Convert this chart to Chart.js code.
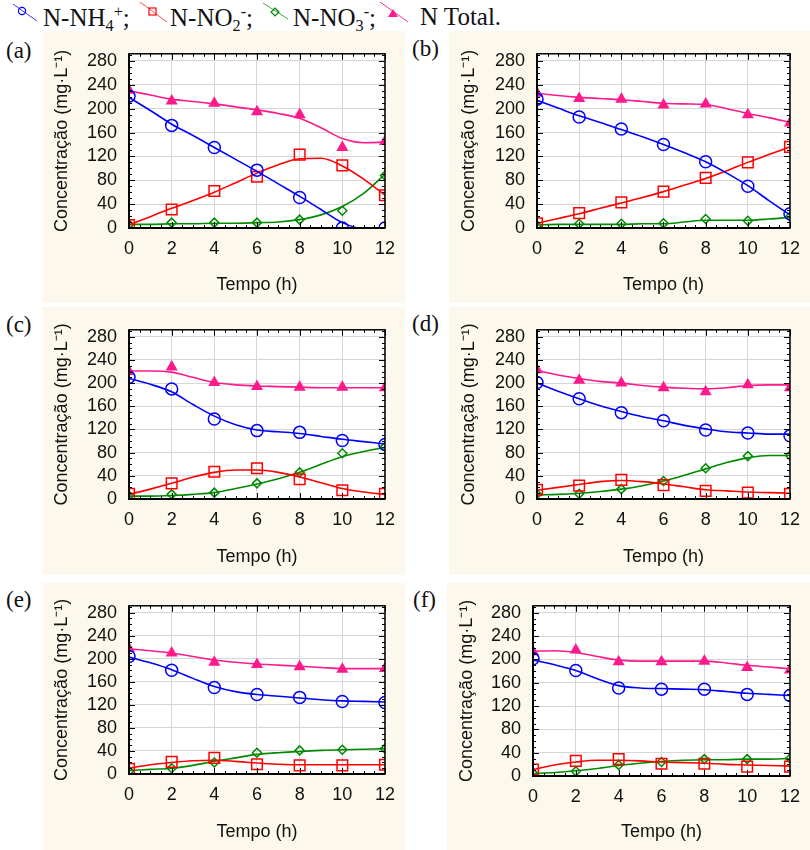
<!DOCTYPE html>
<html>
<head>
<meta charset="utf-8">
<script src="https://cdn.jsdelivr.net/npm/chart.js@4.4.0/dist/chart.umd.min.js"></script>
<style>
  body { margin: 0; width: 810px; height: 850px; background: #fff; position: relative; overflow: hidden; font-family: 'Liberation Serif', 'Times New Roman', serif; }
  .panel { position: absolute; background: #fdf8ec; }
  .panel canvas { display: block; }
  .tag { position: absolute; font-size: 23px; line-height: 1; color: #111; }
  .leg { position: absolute; top: 4px; font-size: 25px; line-height: 1; color: #111; white-space: nowrap; }
  .leg .sb { font-size: 0.65em; vertical-align: -0.3em; }
  .leg .sp { font-size: 0.65em; vertical-align: 0.55em; }
</style>
</head>
<body>

<svg style="position:absolute;left:0;top:0" width="420" height="30">
  <line x1="13" y1="4" x2="37" y2="21" stroke="#3a3aff" stroke-width="1"/>
  <circle cx="22" cy="11" r="3.6" fill="none" stroke="#0000ff" stroke-width="1.2"/>
  <line x1="140" y1="2" x2="167" y2="22" stroke="#ff4a4a" stroke-width="1"/>
  <rect x="149" y="8" width="7" height="7" fill="none" stroke="#ff0000" stroke-width="1.2"/>
  <line x1="263" y1="3" x2="288" y2="19" stroke="#4aa04a" stroke-width="1"/>
  <polygon points="275,8 279,12 275,16 271,12" fill="none" stroke="#008a00" stroke-width="1.2"/>
  <line x1="380" y1="2" x2="408" y2="22" stroke="#ff2f96" stroke-width="1"/>
  <polygon points="393,9 398,17 388,17" fill="#ff1a8c"/>
</svg>
<div class="leg" style="left:43px">N-NH<span class="sb">4</span><span class="sp">+</span>;</div>
<div class="leg" style="left:170px">N-NO<span class="sb">2</span><span class="sp">-</span>;</div>
<div class="leg" style="left:293px">N-NO<span class="sb">3</span><span class="sp">-</span>;</div>
<div class="leg" style="left:420px">N Total.</div>

<div class="tag" style="left:6px;top:39px">(a)</div>
<div class="tag" style="left:412px;top:37px">(b)</div>
<div class="tag" style="left:6px;top:313px">(c)</div>
<div class="tag" style="left:412px;top:312px">(d)</div>
<div class="tag" style="left:6px;top:588px">(e)</div>
<div class="tag" style="left:413px;top:588px">(f)</div>

<div class="panel" id="pa"><canvas id="chartA"></canvas></div>
<div class="panel" id="pb"><canvas id="chartB"></canvas></div>
<div class="panel" id="pc"><canvas id="chartC"></canvas></div>
<div class="panel" id="pd"><canvas id="chartD"></canvas></div>
<div class="panel" id="pe"><canvas id="chartE"></canvas></div>
<div class="panel" id="pf"><canvas id="chartF"></canvas></div>

<script>
// tempos das amostras e dos ajustes
const hours = [0, 2, 4, 6, 8, 10, 12];
const fitHours = [0, 1, 2, 3, 4, 5, 6, 7, 8, 9, 10, 11, 12];
const xTicks = [0, 2, 4, 6, 8, 10, 12];
const yTicks = [0, 40, 80, 120, 160, 200, 240, 280];

// (a)
const nh4A = [221, 172, 135, 97, 51, 0, 0];
const no2A = [5, 31, 62, 86, 123, 105, 55];
const no3A = [6, 9, 9, 9, 14, 29, 88];
const totalA = [231, 213, 209, 195, 190, 135, 145];
const nh4FitA = [219, 197, 174, 155, 135, 115, 95, 74, 53, 31, 9, -1, 0];
const no2FitA = [5, 19, 33, 46, 60, 76, 92, 106, 116, 117, 104, 82, 55];
const no3FitA = [6, 6, 7, 7, 8, 8, 9, 10, 14, 22, 36, 58, 90];
const totalFitA = [230, 223, 216, 212, 208, 203, 198, 192, 184, 168, 150, 143, 144];

// (b)
const nh4B = [216, 186, 166, 140, 111, 70, 24];
const no2B = [8, 25, 43, 61, 84, 110, 136];
const no3B = [4, 7, 7, 8, 15, 12, 19];
const totalB = [226, 217, 216, 206, 208, 190, 176];
const nh4FitB = [214, 201, 188, 177, 165, 153, 140, 126, 111, 92, 71, 46, 22];
const no2FitB = [8, 16, 24, 33, 42, 51, 61, 72, 83, 96, 110, 123, 136];
const no3FitB = [5, 6, 6, 6, 6, 7, 7, 10, 13, 13, 13, 15, 18];
const totalFitB = [226, 222, 219, 217, 215, 212, 209, 208, 207, 200, 192, 185, 177];

// (c)
const nh4C = [210, 190, 138, 118, 115, 101, 94];
const no2C = [9, 27, 47, 53, 34, 15, 9];
const no3C = [6, 8, 11, 27, 46, 79, 90];
const totalC = [220, 228, 201, 194, 193, 193, 192];
const nh4FitC = [208, 198, 185, 163, 143, 128, 119, 116, 113, 108, 103, 99, 95];
const no2FitC = [8, 17, 27, 38, 46, 50, 50, 46, 38, 28, 18, 12, 8];
const no3FitC = [5, 5, 6, 8, 11, 18, 26, 35, 46, 60, 73, 82, 89];
const totalFitC = [221, 221, 219, 210, 201, 197, 195, 194, 193, 192, 192, 192, 192];

// (d)
const nh4D = [201, 173, 149, 135, 119, 114, 109];
const no2D = [16, 23, 33, 24, 14, 11, 9];
const no3D = [8, 9, 17, 31, 53, 74, 75];
const totalD = [223, 205, 200, 192, 185, 197, 192];
const nh4FitD = [200, 186, 173, 161, 151, 142, 135, 127, 121, 116, 114, 112, 112];
const no2FitD = [15, 20, 25, 30, 32, 30, 26, 21, 16, 14, 12, 11, 10];
const no3FitD = [7, 8, 10, 13, 17, 23, 31, 41, 52, 63, 71, 75, 75];
const totalFitD = [222, 214, 208, 203, 200, 196, 193, 191, 190, 192, 196, 197, 197];

// (e)
const nh4E = [204, 180, 150, 138, 133, 126, 124];
const no2E = [9, 21, 28, 17, 15, 15, 16];
const no3E = [5, 10, 20, 37, 41, 42, 44];
const totalE = [218, 210, 194, 190, 186, 182, 183];
const nh4FitE = [203, 193, 181, 166, 152, 143, 138, 135, 132, 129, 127, 126, 125];
const no2FitE = [10, 16, 20, 23, 24, 22, 19, 17, 16, 16, 16, 16, 16];
const no3FitE = [6, 8, 10, 15, 22, 28, 34, 37, 39, 41, 42, 43, 44];
const totalFitE = [217, 214, 210, 204, 198, 194, 191, 189, 187, 185, 183, 183, 183];

// (f)
const nh4F = [201, 181, 151, 149, 149, 140, 138];
const no2F = [11, 26, 29, 21, 21, 16, 16];
const no3F = [5, 8, 19, 24, 29, 29, 30];
const totalF = [213, 216, 196, 196, 197, 186, 182];
const nh4FitF = [199, 191, 181, 167, 155, 151, 150, 149, 148, 145, 142, 140, 138];
const no2FitF = [11, 19, 24, 27, 27, 26, 24, 23, 22, 20, 19, 18, 17];
const no3FitF = [4, 6, 9, 13, 18, 22, 25, 27, 28, 28, 29, 29, 30];
const totalFitF = [214, 215, 212, 205, 199, 197, 197, 197, 197, 194, 190, 187, 184];

const BLUE = '#0000ff';
const RED = '#ff0000';
const GREEN = '#008a00';
const PINK = '#ff1a8c';
const gridColor = '#d6d6d6';
const sansFont = "'Liberation Sans', Arial, sans-serif";

const panels = [
    { canvas: 'chartA', box: 'pa', left: 42, top: 31, width: 363, height: 272, padTop: 6, padRight: 14, yWidth: 87, xHeight: 75,
      points: [nh4A, no2A, no3A, totalA], fits: [nh4FitA, no2FitA, no3FitA, totalFitA] },
    { canvas: 'chartB', box: 'pb', left: 449, top: 31, width: 361, height: 272, padTop: 6, padRight: 12, yWidth: 88, xHeight: 75,
      points: [nh4B, no2B, no3B, totalB], fits: [nh4FitB, no2FitB, no3FitB, totalFitB] },
    { canvas: 'chartC', box: 'pc', left: 42, top: 307, width: 363, height: 268, padTop: 5, padRight: 13, yWidth: 87, xHeight: 76,
      points: [nh4C, no2C, no3C, totalC], fits: [nh4FitC, no2FitC, no3FitC, totalFitC] },
    { canvas: 'chartD', box: 'pd', left: 449, top: 307, width: 361, height: 268, padTop: 5, padRight: 10, yWidth: 88, xHeight: 76,
      points: [nh4D, no2D, no3D, totalD], fits: [nh4FitD, no2FitD, no3FitD, totalFitD] },
    { canvas: 'chartE', box: 'pe', left: 42, top: 583, width: 363, height: 267, padTop: 4, padRight: 14, yWidth: 87, xHeight: 76,
      points: [nh4E, no2E, no3E, totalE], fits: [nh4FitE, no2FitE, no3FitE, totalFitE] },
    { canvas: 'chartF', box: 'pf', left: 447, top: 583, width: 363, height: 267, padTop: 5, padRight: 14, yWidth: 86, xHeight: 74,
      points: [nh4F, no2F, no3F, totalF], fits: [nh4FitF, no2FitF, no3FitF, totalFitF] }
];

// estilo de cada série: N-NH4+, N-NO2-, N-NO3-, N Total
const seriesStyles = [
    { color: BLUE, pointStyle: 'circle', radius: 6, fill: 'transparent' },
    { color: RED, pointStyle: 'rect', radius: 7.5, fill: 'transparent' },
    { color: GREEN, pointStyle: 'rectRot', radius: 4.5, fill: 'transparent' },
    { color: PINK, pointStyle: 'triangle', radius: 5.5, fill: PINK }
];

// fundo branco da área do gráfico + moldura preta com marcas internas
const framePlugin = {
    id: 'frame',
    beforeDraw(chart) {
        const { ctx, chartArea: a } = chart;
        ctx.save();
        ctx.fillStyle = '#ffffff';
        ctx.fillRect(a.left, a.top, a.right - a.left, a.bottom - a.top);
        ctx.restore();
    },
    afterDraw(chart) {
        const { ctx, chartArea: a } = chart;
        const x = chart.scales.x;
        const y = chart.scales.y;
        ctx.save();
        ctx.strokeStyle = '#000';
        ctx.lineWidth = 1;
        ctx.beginPath();
        for (let v = 0; v <= 12; v += 0.5) {
            const px = Math.round(x.getPixelForValue(v)) + 0.5;
            const len = v % 2 === 0 ? 6 : 3;
            ctx.moveTo(px, a.bottom); ctx.lineTo(px, a.bottom - len);
            ctx.moveTo(px, a.top); ctx.lineTo(px, a.top + len);
        }
        for (let v = 0; v <= 290; v += 10) {
            const py = Math.round(y.getPixelForValue(v)) + 0.5;
            const len = v % 40 === 0 ? 6 : 3;
            ctx.moveTo(a.left, py); ctx.lineTo(a.left + len, py);
            ctx.moveTo(a.right, py); ctx.lineTo(a.right - len, py);
        }
        ctx.stroke();
        ctx.lineWidth = 1.5;
        ctx.strokeRect(a.left, a.top, a.right - a.left, a.bottom - a.top);
        ctx.lineWidth = 2;
        ctx.beginPath();
        ctx.moveTo(a.left, a.top); ctx.lineTo(a.left, a.bottom); ctx.lineTo(a.right, a.bottom);
        ctx.stroke();
        ctx.restore();
    }
};

panels.forEach(p => {
    const box = document.getElementById(p.box);
    box.style.left = p.left + 'px';
    box.style.top = p.top + 'px';
    box.style.width = p.width + 'px';
    box.style.height = p.height + 'px';
    const canvas = document.getElementById(p.canvas);
    canvas.width = p.width;
    canvas.height = p.height;

    const datasets = [];
    seriesStyles.forEach((s, i) => {
        datasets.push({
            data: fitHours.map((h, k) => ({ x: h, y: p.fits[i][k] })),
            showLine: true,
            borderColor: s.color,
            borderWidth: 1.6,
            pointRadius: 0,
            cubicInterpolationMode: 'monotone',
            clip: 0
        });
        datasets.push({
            data: hours.map((h, k) => ({ x: h, y: p.points[i][k] })),
            showLine: false,
            pointStyle: s.pointStyle,
            pointRadius: s.radius,
            pointBorderWidth: 1.5,
            borderColor: s.color,
            pointBorderColor: s.color,
            pointBackgroundColor: s.fill,
            clip: 0
        });
    });

    new Chart(canvas, {
        type: 'scatter',
        data: { datasets },
        options: {
            responsive: false,
            animation: false,
            layout: {
                autoPadding: false,
                padding: { left: 0, top: p.padTop, right: p.padRight, bottom: 0 }
            },
            plugins: {
                legend: { display: false },
                tooltip: { enabled: false }
            },
            scales: {
                x: {
                    type: 'linear',
                    min: 0,
                    max: 12,
                    afterBuildTicks: scale => { scale.ticks = xTicks.map(v => ({ value: v })); },
                    afterFit: scale => { scale.height = p.xHeight; },
                    grid: { color: gridColor, lineWidth: 1, drawTicks: false },
                    border: { display: false },
                    ticks: { autoSkip: false, maxRotation: 0, padding: 10, color: '#111', font: { family: sansFont, size: 18 } },
                    title: {
                        display: true,
                        text: 'Tempo (h)',
                        color: '#111',
                        font: { family: sansFont, size: 18 },
                        padding: { top: 0, bottom: 7 }
                    }
                },
                y: {
                    type: 'linear',
                    min: 0,
                    max: 292,
                    afterBuildTicks: scale => { scale.ticks = yTicks.map(v => ({ value: v })); },
                    afterFit: scale => { scale.width = p.yWidth; },
                    grid: { color: gridColor, lineWidth: 1, drawTicks: false },
                    border: { display: false },
                    ticks: { autoSkip: false, padding: 12, color: '#111', font: { family: sansFont, size: 18 } },
                    title: {
                        display: true,
                        text: 'Concentração (mg·L⁻¹)',
                        color: '#111',
                        font: { family: sansFont, size: 18 },
                        padding: { top: 9, bottom: 0 }
                    }
                }
            }
        },
        plugins: [framePlugin]
    });
});
</script>
</body>
</html>
